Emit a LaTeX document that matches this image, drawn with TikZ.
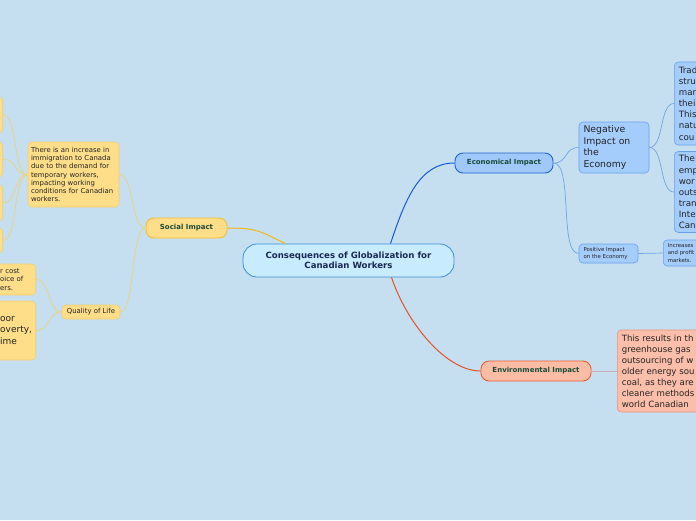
\documentclass[tikz,border=0pt]{standalone}
\usepackage{fontspec}
\setmainfont{DejaVu Sans}
\usepackage{tikz}
\usetikzlibrary{arrows.meta, calc, positioning}

\definecolor{bgblue}{RGB}{197,223,240}
\definecolor{midfill}{RGB}{200,236,253}
\definecolor{midline}{RGB}{60,140,215}
\definecolor{midtext}{RGB}{25,40,85}
\definecolor{headgreen}{RGB}{25,75,55}
\definecolor{notetext}{RGB}{35,35,35}
\definecolor{socfill}{RGB}{255,222,138}
\definecolor{socedge}{RGB}{245,190,40}
\definecolor{socline}{RGB}{245,205,110}
\definecolor{socconn}{RGB}{245,182,20}
\definecolor{socthin}{RGB}{238,210,120}
\definecolor{ecomain}{RGB}{160,200,250}
\definecolor{ecoedge}{RGB}{30,100,205}
\definecolor{ecoconn}{RGB}{20,90,215}
\definecolor{ecofill}{RGB}{165,205,252}
\definecolor{ecoline}{RGB}{105,160,235}
\definecolor{ecothin}{RGB}{110,165,230}
\definecolor{envmain}{RGB}{250,188,165}
\definecolor{envedge}{RGB}{235,95,50}
\definecolor{envconn}{RGB}{230,80,40}
\definecolor{envfill}{RGB}{250,190,170}
\definecolor{envline}{RGB}{235,145,120}
\definecolor{envthin}{RGB}{200,170,185}

\begin{document}
\begin{tikzpicture}[x=1pt, y=-1pt, >=Stealth,
  topic/.style={draw, line width=0.9pt, rounded corners=8pt, inner sep=2pt, minimum height=20pt, text=headgreen, font=\bfseries\fontsize{7}{8.5}\selectfont},
  note/.style={draw, line width=0.6pt, rounded corners=4pt, inner xsep=4.5pt, inner ysep=2pt, align=left, text=notetext},
  yellowbox/.style={note, fill=socfill, draw=socline},
  bluebox/.style={note, fill=ecofill, draw=ecoline},
  redbox/.style={note, fill=envfill, draw=envline},
  link/.style={line width=0.7pt}]
  \useasboundingbox (0,0) rectangle (696,520);
  \fill[bgblue] (0,0) rectangle (696,520);
  \clip (0,0) rectangle (696,520);

  \node[draw=midline, fill=midfill, line width=0.8pt, rounded corners=14pt, minimum width=211pt, minimum height=33pt, align=center, text=midtext, font=\bfseries\fontsize{8.6}{10.5}\selectfont] (globe) at (348.5,260.5) {Consequences of Globalization for\\Canadian Workers};

  \node[topic, fill=socfill, draw=socedge, minimum width=81pt] (social) at (186.5,228) {Social Impact};
  \node[topic, fill=ecomain, draw=ecoedge, minimum width=98pt] (econ) at (504,163) {Economical Impact};
  \node[topic, fill=envmain, draw=envedge, minimum width=110pt] (environ) at (536,371) {Environmental Impact};

  \node[bluebox, minimum width=70pt, minimum height=51pt, text width=61pt, font=\fontsize{9.3}{11.4}\selectfont] (negative) at (614,147.5) {Negative\\Impact on\\the\\Economy};
  \node[bluebox, minimum width=59pt, minimum height=19pt, text width=50pt, font=\fontsize{5.4}{7.3}\selectfont] (positive) at (608.5,253.5) {Positive Impact\\on the Economy};
  \node[bluebox, anchor=west, minimum width=60pt, minimum height=26pt, text width=51pt, font=\fontsize{5.4}{7.3}\selectfont] (profits) at (663,253) {Increases\\and profit\\markets.};
  \node[bluebox, anchor=west, minimum width=50pt, minimum height=83pt, text width=41pt, font=\fontsize{8.7}{11.1}\selectfont] (trade) at (674,103.5) {Trad\\stru\\man\\thei\\This\\natu\\cou};
  \node[bluebox, anchor=west, minimum width=50pt, minimum height=81pt, text width=41pt, font=\fontsize{8.7}{11.1}\selectfont] (jobs) at (674,192) {The\\emp\\wor\\outs\\tran\\Inte\\Can};

  \node[redbox, anchor=west, minimum width=110pt, minimum height=82pt, text width=101pt, font=\fontsize{8.6}{10.95}\selectfont] (emission) at (617,371) {This results in th\\greenhouse gas\\outsourcing of w\\older energy sou\\coal, as they are\\cleaner methods\\world Canadian};

  \node[yellowbox, inner xsep=3pt, minimum width=91pt, minimum height=65pt, text width=85pt, font=\fontsize{6.9}{8.3}\selectfont] (immigration) at (73.5,174.5) {There is an increase in\\immigration to Canada\\due to the demand for\\temporary workers,\\impacting working\\conditions for Canadian\\workers.};
  \node[yellowbox, anchor=east, minimum width=30pt, minimum height=36pt] (leftA) at (3,115) {};
  \node[yellowbox, anchor=east, minimum width=30pt, minimum height=35pt] (leftB) at (3,159.5) {};
  \node[yellowbox, anchor=east, minimum width=30pt, minimum height=36pt] (leftC) at (3,203) {};
  \node[yellowbox, anchor=east, minimum width=30pt, minimum height=25pt] (leftD) at (3,240.5) {};

  \node[yellowbox, minimum width=58pt, minimum height=14pt, inner xsep=3pt, font=\fontsize{6.9}{8}\selectfont] (quality) at (91,312) {Quality of Life};
  \node[yellowbox, anchor=east, minimum width=40pt, minimum height=31pt, text width=31pt, font=\fontsize{6.9}{8.7}\selectfont] (cost) at (36,279.5) {r cost\\oice of\\ers.};
  \node[yellowbox, anchor=east, minimum width=40pt, minimum height=59pt, text width=31pt, font=\fontsize{9}{11.5}\selectfont] (poverty) at (36,330.5) {oor\\overty,\\ime};

  \draw[link, socconn, line width=1pt] ([xshift=-63pt]globe.north) .. controls +(-25,-12) and +(30,0) .. (social.east);
  \draw[link, ecoconn, line width=1pt] ([xshift=42pt]globe.north) .. controls +(15,-45) and +(-35,0) .. (econ.west);
  \draw[link, envconn, line width=1pt] ([xshift=43pt]globe.south) .. controls +(15,45) and +(-35,0) .. (environ.west);

  \draw[link, ecothin] (econ.east) .. controls +(15,0) and +(-15,0) .. (negative.west);
  \draw[link, ecothin] (econ.east) .. controls +(20,0) and +(-20,0) .. (positive.west);
  \draw[link, ecothin] (positive.east) -- (profits.west);
  \draw[link, ecothin] (negative.east) .. controls +(15,0) and +(-15,0) .. (trade.west);
  \draw[link, ecothin] (negative.east) .. controls +(15,0) and +(-15,0) .. (jobs.west);
  \draw[link, envthin] (environ.east) -- (emission.west);

  \draw[link, socthin] (social.west) .. controls +(-15,0) and +(15,0) .. (immigration.east);
  \draw[link, socthin] (social.west) .. controls +(-15,0) and +(15,0) .. (quality.east);
  \foreach \leaf in {leftA, leftB, leftC, leftD}
    \draw[link, socthin] (immigration.west) .. controls +(-15,0) and +(15,0) .. (\leaf.east);
  \foreach \leaf in {cost, poverty}
    \draw[link, socthin] (quality.west) .. controls +(-15,0) and +(15,0) .. (\leaf.east);
\end{tikzpicture}
\end{document}
